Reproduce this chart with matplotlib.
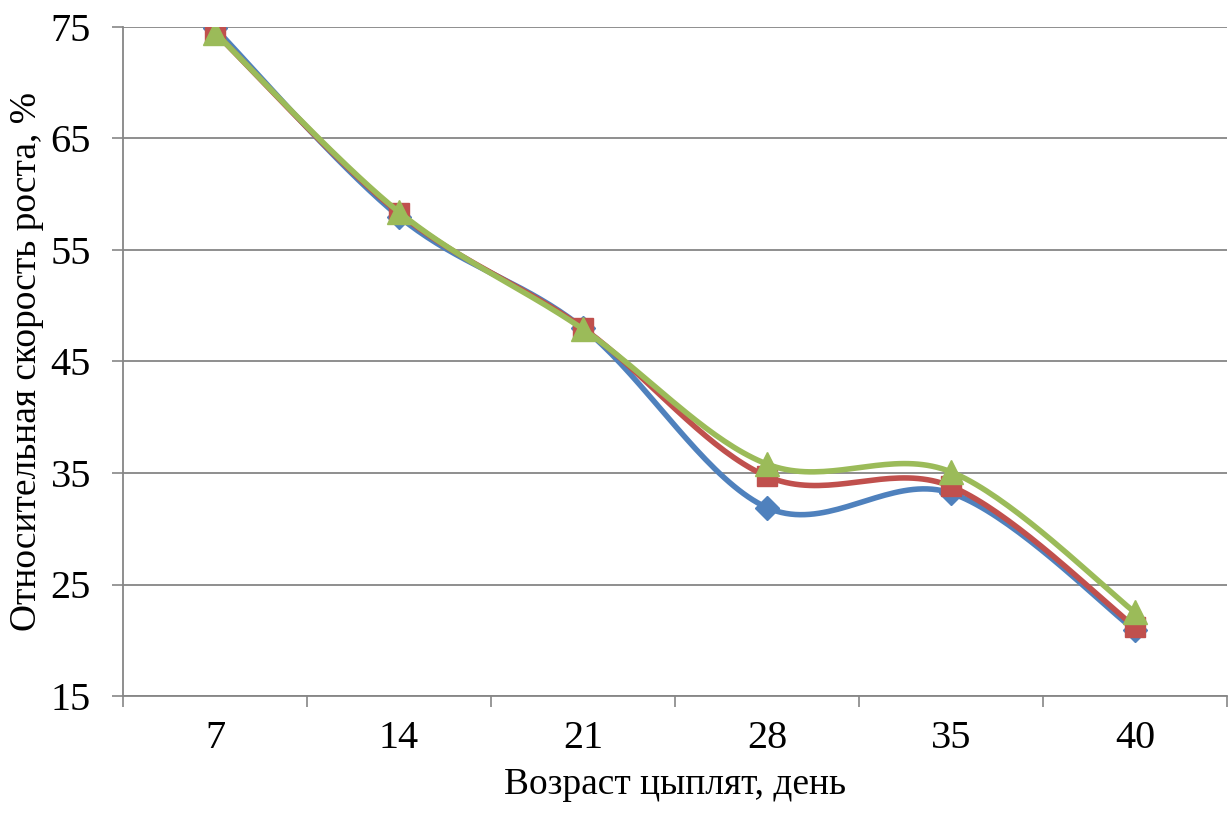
import numpy as np
import matplotlib.pyplot as plt

plt.rcParams['font.family'] = ['Liberation Serif', 'DejaVu Serif']

# Возраст (дни) и относительная скорость роста по трём группам
days = ["7", "14", "21", "28", "35", "40"]
group_1 = [74.9, 58.0, 48.0, 31.9, 33.2, 20.9]
group_2 = [74.5, 58.3, 48.0, 34.7, 33.8, 21.2]
group_3 = [74.5, 58.4, 47.9, 35.8, 35.1, 22.5]

colors = ["#4F81BD", "#C0504D", "#9BBB59"]
markers = ["D", "s", "^"]
msizes = [12, 15, 17]


def smooth(x, y, n=40):
    # Сглаживание Катмулла-Рома, как у сглаженных линий в Excel
    x = np.asarray(x, float)
    y = np.asarray(y, float)
    px = np.concatenate([[x[0]], x, [x[-1]]])
    py = np.concatenate([[y[0]], y, [y[-1]]])
    xs, ys = [], []
    t = np.linspace(0, 1, n)
    for i in range(1, len(px) - 2):
        for p, out in ((px, xs), (py, ys)):
            p0, p1, p2, p3 = p[i - 1], p[i], p[i + 1], p[i + 2]
            c1 = p1 + (p2 - p0) / 6
            c2 = p2 - (p3 - p1) / 6
            out.extend((1 - t) ** 3 * p1 + 3 * (1 - t) ** 2 * t * c1
                       + 3 * (1 - t) * t ** 2 * c2 + t ** 3 * p2)
    return np.array(xs), np.array(ys)


fig = plt.figure(figsize=(12.32, 8.14), dpi=100)
ax = fig.add_axes([123 / 1232, 1 - 696 / 814, (1227 - 123) / 1232, (696 - 27) / 814])

pos = np.arange(len(days))
for k, vals in enumerate([group_1, group_2, group_3]):
    sx, sy = smooth(pos, vals)
    ax.plot(sx, sy, color=colors[k], lw=4.0, zorder=3 + k, solid_capstyle='round')
    ax.plot(pos, vals, ls='none', marker=markers[k], ms=msizes[k],
            color=colors[k], zorder=3 + k)

ax.set_xlim(-0.5, len(days) - 0.5)
ax.set_ylim(15, 75)
ax.set_yticks(np.arange(15, 76, 10))
ax.set_xticks(pos)
ax.set_xticklabels(days)
ax.set_xticks(np.arange(-0.5, len(days), 1), minor=True)
ax.tick_params(axis='x', which='major', length=0, pad=17, labelsize=29)
ax.tick_params(axis='x', which='minor', length=8, width=1.2, color='#868686')
ax.tick_params(axis='y', length=8, width=1.2, color='#868686', labelsize=29, pad=15)

ax.grid(axis='y', color='#868686', lw=1.3)
ax.set_axisbelow(True)
for s in ['top', 'right']:
    ax.spines[s].set_visible(False)
for s in ['left', 'bottom']:
    ax.spines[s].set_color('#868686')
    ax.spines[s].set_linewidth(1.3)

ax.set_xlabel("Возраст цыплят, день", fontsize=27, labelpad=8)
ax.set_ylabel("Относительная скорость роста, %", fontsize=27)
ax.yaxis.set_label_coords(-0.072, 0.5)

fig.savefig("out.png", dpi=100)
